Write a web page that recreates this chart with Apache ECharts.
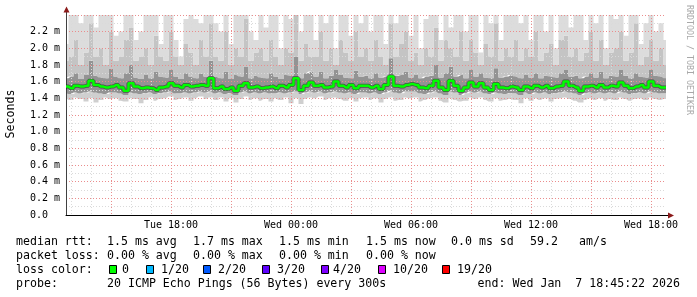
<!DOCTYPE html>
<html><head><meta charset="utf-8">
<script src="https://cdn.jsdelivr.net/npm/echarts@6/dist/echarts.min.js"></script>
<style>html,body{margin:0;padding:0;background:#fff}#c{width:697px;height:297px}</style>
</head><body><div id="c"></div>
<script>
// time axis: 15-minute steps from Tue 12:45 to Wed 18:45
const dayNames = ['Tue', 'Wed'];
const startMinute = 12 * 60 + 45;
const stepMinutes = 15;
const tickLabels = ['Tue 18:00', 'Wed 00:00', 'Wed 06:00', 'Wed 12:00', 'Wed 18:00'];
const yTicks = [0, 0.2, 0.4, 0.6, 0.8, 1.0, 1.2, 1.4, 1.6, 1.8, 2.0, 2.2];

// median rtt (ms)
const median = [
1.54,1.52,1.55,1.54,1.55,1.61,1.56,1.54,1.53,1.54,
1.56,1.53,1.49,1.58,1.54,1.52,1.53,1.52,1.50,1.53,
1.54,1.58,1.55,1.53,1.56,1.54,1.55,1.56,1.55,1.64,
1.52,1.54,1.51,1.53,1.49,1.55,1.58,1.53,1.54,1.52,
1.53,1.54,1.52,1.55,1.53,1.56,1.64,1.50,1.55,1.59,
1.55,1.56,1.53,1.54,1.60,1.55,1.53,1.56,1.52,1.55,
1.55,1.53,1.55,1.51,1.56,1.66,1.55,1.54,1.56,1.57,
1.56,1.53,1.52,1.55,1.61,1.53,1.50,1.61,1.55,1.49,
1.53,1.59,1.54,1.58,1.53,1.50,1.57,1.53,1.52,1.54,
1.53,1.50,1.54,1.52,1.55,1.53,1.55,1.52,1.54,1.55,
1.60,1.55,1.53,1.49,1.54,1.55,1.53,1.56,1.53,1.55,
1.54,1.59,1.55,1.52,1.54,1.56,1.53,1.60,1.55,1.53,1.53];

// smoke: lowest ping
const smokeMin = [
1.40,1.38,1.41,1.39,1.36,1.40,1.35,1.38,1.41,1.39,
1.40,1.37,1.36,1.40,1.39,1.34,1.38,1.41,1.37,1.39,
1.40,1.42,1.38,1.39,1.41,1.37,1.40,1.42,1.39,1.41,
1.38,1.41,1.36,1.40,1.35,1.39,1.42,1.38,1.40,1.37,
1.39,1.36,1.40,1.38,1.41,1.34,1.40,1.33,1.39,1.41,
1.40,1.42,1.38,1.40,1.41,1.39,1.37,1.40,1.36,1.40,
1.41,1.38,1.40,1.35,1.39,1.41,1.37,1.38,1.41,1.40,
1.41,1.36,1.38,1.40,1.41,1.37,1.35,1.40,1.38,1.36,
1.37,1.41,1.39,1.41,1.38,1.36,1.40,1.37,1.38,1.39,
1.38,1.34,1.40,1.37,1.40,1.38,1.40,1.36,1.39,1.40,
1.41,1.39,1.37,1.35,1.38,1.40,1.38,1.40,1.37,1.39,
1.38,1.41,1.39,1.37,1.39,1.40,1.38,1.41,1.39,1.38,1.39];

// smoke: lower edge of dense core
const smokeCoreLo = [
1.46,1.45,1.47,1.46,1.47,1.48,1.47,1.46,1.45,1.47,
1.47,1.46,1.44,1.47,1.46,1.45,1.46,1.47,1.45,1.46,
1.47,1.48,1.46,1.46,1.47,1.46,1.47,1.48,1.47,1.48,
1.46,1.47,1.45,1.46,1.44,1.47,1.48,1.46,1.47,1.46,
1.47,1.46,1.46,1.47,1.46,1.47,1.48,1.45,1.47,1.48,
1.47,1.48,1.46,1.47,1.48,1.47,1.46,1.47,1.45,1.47,
1.47,1.46,1.47,1.45,1.47,1.49,1.47,1.46,1.48,1.48,
1.48,1.46,1.45,1.47,1.48,1.46,1.44,1.48,1.47,1.44,
1.46,1.48,1.47,1.48,1.46,1.45,1.47,1.46,1.45,1.46,
1.46,1.44,1.47,1.45,1.47,1.46,1.47,1.45,1.46,1.47,
1.48,1.47,1.46,1.44,1.46,1.47,1.46,1.47,1.46,1.47,
1.46,1.48,1.47,1.45,1.46,1.47,1.46,1.48,1.47,1.46,1.46];

// smoke: upper edge of dense core
const smokeCoreHi = [
1.64,1.66,1.70,1.63,1.68,1.85,1.67,1.65,1.64,1.75,
1.66,1.64,1.70,1.80,1.65,1.63,1.68,1.64,1.72,1.66,
1.65,1.74,1.66,1.63,1.70,1.66,1.64,1.69,1.66,1.85,
1.66,1.64,1.72,1.63,1.68,1.66,1.78,1.64,1.67,1.65,
1.64,1.70,1.66,1.63,1.68,1.67,1.90,1.64,1.70,1.72,
1.66,1.72,1.64,1.67,1.74,1.68,1.65,1.64,1.73,1.66,
1.67,1.64,1.70,1.65,1.66,1.88,1.67,1.68,1.72,1.65,
1.68,1.64,1.66,1.67,1.80,1.65,1.70,1.78,1.66,1.68,
1.64,1.74,1.66,1.70,1.65,1.64,1.76,1.65,1.66,1.68,
1.66,1.64,1.68,1.65,1.70,1.64,1.67,1.66,1.65,1.70,
1.74,1.66,1.67,1.64,1.66,1.70,1.65,1.72,1.64,1.67,
1.66,1.74,1.67,1.64,1.70,1.66,1.65,1.74,1.67,1.66,1.64];

// smoke: upper edge of medium band
const smokeMidHi = [
1.85,1.90,2.10,1.80,1.95,2.30,1.90,2.00,1.80,2.20,
1.85,1.90,2.10,2.25,1.85,1.90,2.00,1.80,2.15,1.90,
1.85,2.20,1.90,1.80,2.05,1.95,1.80,2.10,1.90,2.30,
1.90,1.85,2.20,1.80,2.00,1.90,2.35,1.85,1.95,2.00,
1.85,2.10,1.90,1.80,2.00,1.95,2.40,1.85,2.05,1.90,
1.90,2.20,1.85,2.00,1.80,2.10,1.95,1.85,2.20,1.90,
2.00,1.85,2.10,1.90,1.80,2.30,1.90,2.05,2.20,1.85,
1.95,1.80,2.00,1.90,2.25,1.85,2.10,2.00,1.90,2.20,
1.85,2.10,1.95,1.80,2.05,1.90,2.30,1.85,2.00,1.90,
2.10,1.85,2.00,1.90,2.20,1.85,1.95,2.05,1.80,2.10,
2.15,1.90,2.00,1.85,1.95,2.20,1.85,2.10,1.80,1.95,
2.00,2.20,1.85,1.95,2.30,1.80,1.90,2.10,1.85,2.00,1.80];

// smoke: highest ping (clipped at top of graph)
const smokeMax = [
2.05,2.45,2.45,2.30,2.45,2.45,2.25,2.45,2.45,2.45,
2.15,2.20,2.45,2.45,2.10,2.20,2.45,2.45,2.45,2.05,
2.45,2.45,2.10,1.90,2.35,2.45,2.35,2.30,2.45,2.45,
2.30,2.20,2.45,2.05,2.45,2.45,2.45,2.20,2.10,2.45,
2.25,2.45,2.45,2.00,2.45,2.35,2.45,2.20,2.45,2.45,
2.10,2.45,2.30,2.45,2.00,2.45,2.45,2.15,2.45,2.30,
2.45,2.20,2.45,2.45,2.05,2.45,2.30,2.45,2.45,2.15,
2.45,2.00,2.35,2.45,2.45,2.10,2.45,2.25,2.45,2.45,
2.20,2.45,2.45,1.95,2.45,2.30,2.45,2.10,2.45,2.45,
2.45,2.30,2.45,2.10,2.45,2.45,2.20,2.45,2.00,2.45,
2.45,2.25,2.45,2.45,2.10,2.45,2.30,2.45,2.00,2.45,
2.35,2.45,2.15,2.45,2.45,2.05,2.30,2.45,2.20,2.30,2.10];

const pad = n => (n < 10 ? '0' : '') + n;
const categories = median.map((_, i) => {
  const m = startMinute + i * stepMinutes;
  const d = Math.floor(m / 1440);
  return dayNames[d] + ' ' + pad(Math.floor((m % 1440) / 60)) + ':' + pad(m % 60);
});
const isHour = v => v.slice(-2) === '00';
const hourOf = v => parseInt(v.slice(4, 6), 10);
const isMajor = v => isHour(v) && hourOf(v) % 3 === 0;
const isMinor = v => isHour(v) && hourOf(v) % 3 !== 0;

const diff = (a, b) => a.map((v, i) => Math.max(0, v - b[i]));
const smokeSeries = (name, data, color) => ({
  name, type: 'line', stack: 'smoke', step: 'middle', data, symbol: 'none',
  lineStyle: { width: 0, opacity: 0 }, areaStyle: color ? { color, opacity: 1 } : null,
  z: 1, silent: true
});

const MONO = '"DejaVu Sans Mono", monospace';
const chart = echarts.init(document.getElementById('c'), null, { renderer: 'canvas' });
const txt = (text, x, y, extra) => ({
  type: 'text', x, y, silent: true,
  style: Object.assign({ text, font: '11.6px ' + MONO, fill: '#000', verticalAlign: 'middle', align: 'left' }, extra || {})
});
const lossColors = [['0', '#00ff00', 109, 122], ['1/20', '#00b8ff', 146, 161], ['2/20', '#0059ff', 203, 218],
  ['3/20', '#5e00ff', 262, 277], ['4/20', '#7e00ff', 321, 333], ['10/20', '#dd00ff', 378, 393], ['19/20', '#ff0000', 442, 457]];
const graphic = [
  { type: 'line', shape: { x1: 66.5, y1: 15, x2: 66.5, y2: 9 }, style: { stroke: '#404040', lineWidth: 1 }, silent: true },
  { type: 'polygon', shape: { points: [[63.5, 12.5], [69.5, 12.5], [66.5, 6.5]] }, style: { fill: '#8b1a1a' }, silent: true },
  { type: 'line', shape: { x1: 666, y1: 215.5, x2: 670, y2: 215.5 }, style: { stroke: '#000', lineWidth: 1 }, silent: true },
  { type: 'polygon', shape: { points: [[668, 212.5], [668, 218.5], [674, 215.5]] }, style: { fill: '#8b1a1a' }, silent: true },
  { type: 'text', x: 11, y: 114, rotation: Math.PI / 2, silent: true,
    style: { text: 'Seconds', font: '11.6px ' + MONO, fill: '#000', align: 'center', verticalAlign: 'middle' } },
  { type: 'text', x: 689, y: 5, rotation: -Math.PI / 2, silent: true,
    style: { text: 'RRDTOOL / TOBI OETIKER', font: '8.3px ' + MONO, fill: '#a8a8a8', align: 'left', verticalAlign: 'middle' } },
  txt('median rtt:', 16, 241.5), txt('1.5 ms avg', 107, 241.5), txt('1.7 ms max', 193, 241.5),
  txt('1.5 ms min', 279, 241.5), txt('1.5 ms now', 366, 241.5), txt('0.0 ms sd', 451, 241.5),
  txt('59.2', 530, 241.5), txt('am/s', 579, 241.5),
  txt('packet loss:', 16, 255.5), txt('0.00 % avg', 107, 255.5), txt('0.00 % max', 193, 255.5),
  txt('0.00 % min', 279, 255.5), txt('0.00 % now', 366, 255.5),
  txt('loss color:', 16, 269.5),
  txt('probe:', 16, 283.5), txt('20 ICMP Echo Pings (56 Bytes) every 300s', 107, 283.5),
  txt('end: Wed Jan  7 18:45:22 2026', 680, 283.5, { align: 'right' })
];
lossColors.forEach(([label, color, bx, tx]) => {
  graphic.push({ type: 'rect', shape: { x: bx + 0.5, y: 265.5, width: 7, height: 8 }, style: { fill: color, stroke: '#000', lineWidth: 1 }, silent: true });
  graphic.push(txt(label, tx, 269.5));
});

chart.setOption({
  animation: false,
  backgroundColor: '#fff',
  graphic: graphic,
  grid: { left: 66, right: 31, top: 15, bottom: 82, containLabel: false },
  xAxis: [{
    type: 'category', data: categories, boundaryGap: false, z: 3,
    axisLine: { show: true, lineStyle: { color: '#000', width: 1 } },
    axisTick: { show: false },
    axisLabel: { interval: (i, v) => tickLabels.indexOf(v) >= 0, margin: 5, color: '#000', fontSize: 10, fontFamily: MONO },
    splitLine: { show: true, interval: (i, v) => isMajor(v), lineStyle: { color: '#eb8c8c', width: 1, type: [1, 2] } }
  }, {
    type: 'category', data: categories, boundaryGap: false, position: 'bottom', z: 2,
    axisLine: { show: false }, axisTick: { show: false }, axisLabel: { show: false },
    splitLine: { show: true, interval: (i, v) => isMinor(v), lineStyle: { color: '#dadada', width: 1, type: [1, 2] } }
  }],
  yAxis: {
    type: 'value', min: 0, max: 2.399, interval: 0.2, z: 3,
    axisLine: { show: true, lineStyle: { color: '#404040', width: 1 } },
    axisTick: { show: false },
    axisLabel: {
      margin: 36, align: 'left', color: '#000', fontSize: 10, fontFamily: MONO,
      formatter: v => { const t = yTicks.find(k => Math.abs(k - v) < 1e-6); if (t === undefined) return ''; return t === 0 ? '0.0' : t.toFixed(1) + ' m'; }
    },
    splitLine: { show: true, lineStyle: { color: '#eb8c8c', width: 1, type: [1, 2] } },
    minorTick: { show: false, splitNumber: 2 },
    minorSplitLine: { show: true, lineStyle: { color: '#dadada', width: 1, type: [1, 2] } }
  },
  series: [
    smokeSeries('min', smokeMin, null),
    smokeSeries('lower', diff(smokeCoreLo, smokeMin), '#cfcfcf'),
    smokeSeries('core', diff(smokeCoreHi, smokeCoreLo), '#939393'),
    smokeSeries('mid', diff(smokeMidHi, smokeCoreHi), '#c4c4c4'),
    smokeSeries('top', diff(smokeMax, smokeMidHi), '#dcdcdc'),
    { name: 'halo', type: 'line', step: 'middle', data: median, symbol: 'none', z: 4, silent: true,
      lineStyle: { color: '#202020', width: 4, opacity: 0.6 } },
    { name: 'median', type: 'line', step: 'middle', data: median, symbol: 'none', z: 5, silent: true,
      lineStyle: { color: '#00ff00', width: 2.5 } }
  ]
});
</script></body></html>
